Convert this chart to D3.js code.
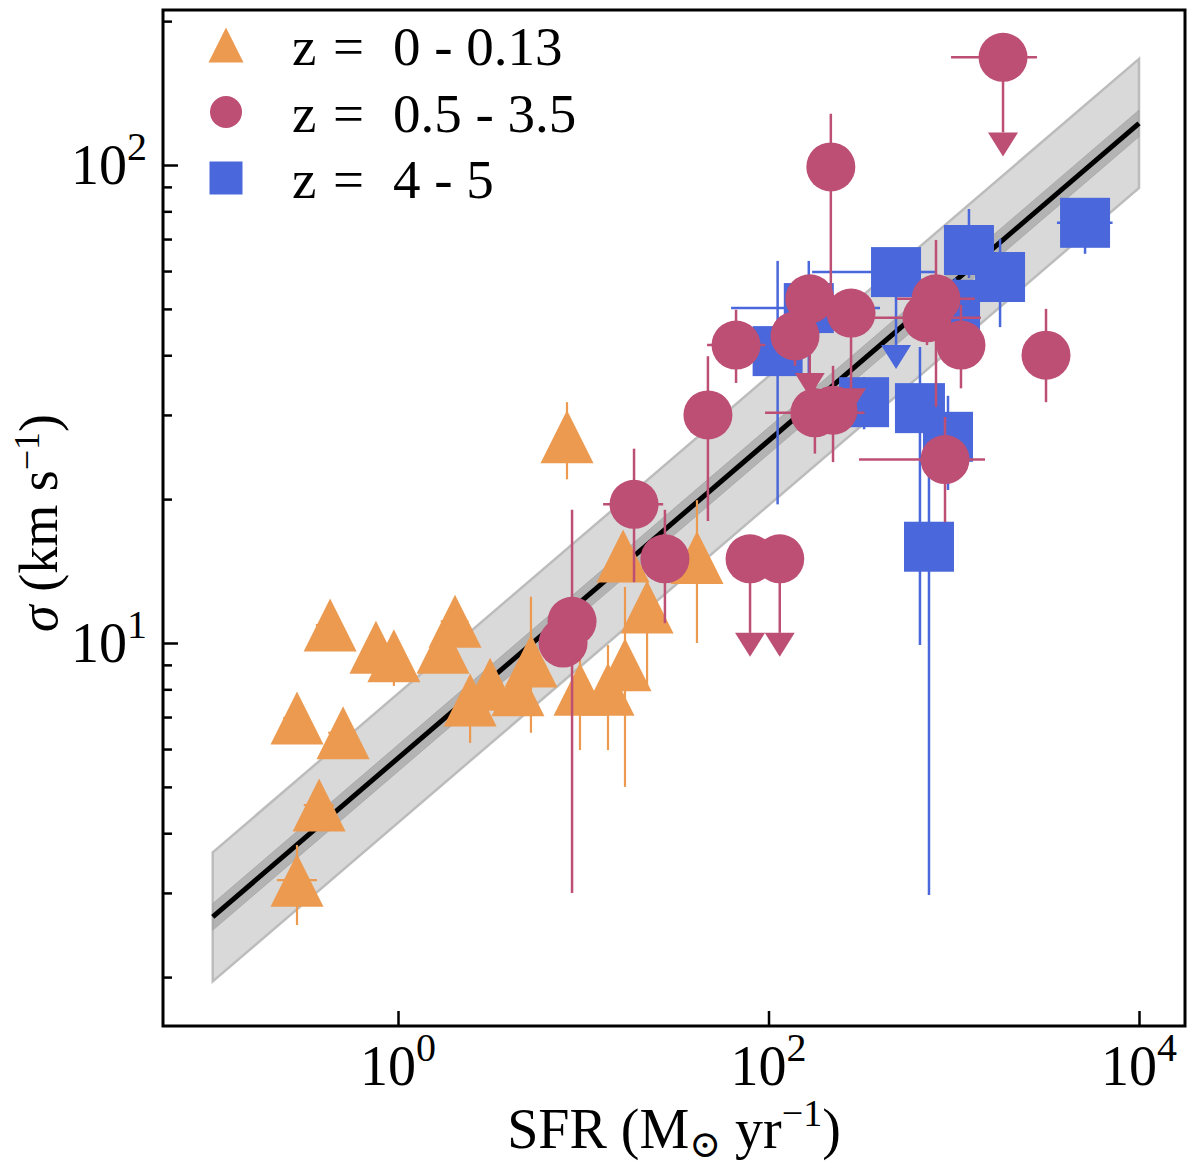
<!DOCTYPE html>
<html><head><meta charset="utf-8">
<script src="https://cdn.jsdelivr.net/npm/d3@7"></script>
<style>
body{margin:0;background:#fff}
svg{display:block}
text{font-family:"Liberation Serif","DejaVu Serif",serif;fill:#000}
</style>
</head><body>
<svg id="c" width="1200" height="1171"></svg>
<script>
// ---------------- DATA ----------------
// z = 0 - 0.13 : [SFR, sigma, sigmaLo, sigmaHi, sfrLo, sfrHi]
const lowZ = [
  [0.285, 3.19, 2.57, 3.78, 0.222, 0.365],
  [0.375, 4.58, 4.3, 4.9, 0.31, 0.45],
  [0.285, 6.97, 6.6, 7.3, 0.24, 0.33],
  [0.505, 6.49, 6.1, 6.9, 0.42, 0.58],
  [0.43, 10.9, 10.3, 11.5, 0.36, 0.5],
  [0.76, 9.8, 9.2, 10.4, 0.65, 0.88],
  [0.95, 9.4, 8.13, 10.0, null, null],
  [2.03, 11.1, 10.4, 11.8, 1.7, 2.4],
  [1.75, 9.8, 9.2, 10.4, 1.5, 2.0],
  [2.45, 7.6, 6.18, 8.3, 2.1, 2.8],
  [3.14, 8.2, 7.6, 8.8, null, null],
  [4.44, 7.98, 7.4, 8.6, null, null],
  [5.22, 9.17, 6.49, 12.5, null, null],
  [9.6, 8.0, 5.97, 9.9, null, null],
  [13.6, 8.0, 5.97, 9.9, null, null],
  [16.8, 9.0, 5.0, 13.1, null, null],
  [22.1, 11.9, 7.98, 13.5, null, null],
  [16.4, 15.2, 14.0, 16.5, null, null],
  [41.1, 15.1, 10.0, 19.9, null, null],
  [8.17, 27.0, 22.0, 31.9, null, null]
];
// z = 0.5 - 3.5 : [SFR, sigma, sigmaLo, sigmaHi, sfrLo, sfrHi, upperLimit]
const midZ = [
  [1845, 168, 117, null, 967, 2813, 1],
  [217, 99.1, 52, 128, null, null, 0],
  [66.8, 42.0, 35.0, 49.8, 46.6, 96, 0],
  [139, 43.9, 38, 50, null, null, 0],
  [167, 52.5, 36.7, null, null, null, 1],
  [279, 49.0, 34.1, null, null, null, 1],
  [717, 47.9, 42, 54, 366, 1400, 0],
  [802, 52.5, 31.2, 69.7, 494, 1300, 0],
  [1094, 42.0, 34.1, 51, null, null, 0],
  [3148, 40.0, 31.9, 50.0, null, null, 0],
  [178, 30.3, 24.9, 36, 95.8, 330, 0],
  [223, 30.7, 23.9, 38, null, null, 0],
  [47.1, 30.0, 18.0, 39.8, null, null, 0],
  [897, 24.2, 17.9, 29.7, 308, 1475, 0],
  [18.8, 19.5, 13.4, 25.5, 12.8, 27, 0],
  [27.6, 15.0, 11.0, 19.0, null, null, 0],
  [79.5, 15.0, 10.5, null, null, null, 1],
  [115, 15.0, 10.5, null, null, null, 1],
  [8.7, 11.1, 3.0, 19.0, null, null, 0],
  [7.78, 10.0, 9.0, 11.0, null, null, 0]
];
// z = 4 - 5 : [SFR, sigma, sigmaLo, sigmaHi, sfrLo, sfrHi, upperLimit]
const highZ = [
  [5114, 75.7, 65.2, 84, 3606, 7200, 0],
  [1208, 66.4, 58, 80.9, 1000, 1450, 0],
  [1778, 58.3, 45.8, 70.0, null, null, 0],
  [1016, 51.0, 45, 58, null, null, 0],
  [488, 59.7, 42.0, null, 172, 792, 1],
  [165, 50.2, 36.7, 63.0, 62.8, 400, 0],
  [112, 40.8, 19.5, 63.0, null, null, 0],
  [328, 31.9, 28, 36, null, null, 0],
  [657, 31.0, 9.9, 41.6, null, null, 0],
  [931, 27.0, 20.9, 32.9, null, null, 0],
  [735, 15.9, 2.97, 27.0, null, null, 0]
];
// best-fit relation log(sigma) = fitA + fitB * log(SFR), shaded scatter
const fitA = 0.759, fitB = 0.332, fitScatter = 0.135, fitErr = 0.028;
const fitRange = [0.1, 1e4];
const legendLabels = ["0 - 0.13", "0.5 - 3.5", "4 - 5"];
const xTicks = [1, 100, 10000], xTickExp = ["0", "2", "4"];
const yTicks = [10, 100], yTickExp = ["1", "2"];
const yMinor = [2,3,4,5,6,7,8,9,20,30,40,50,60,70,80,90,200];

// ---------------- CHART ----------------
const colors = {low:"#EB9A50", mid:"#BC4F73", high:"#4A68DB"};
const L=163, R=1185, T=10, B=1026;
const x = d3.scaleLog().domain([Math.pow(10,-1.2686), Math.pow(10,4.2483)]).range([L,R]);
const y = d3.scaleLog().domain([Math.pow(10,0.1987), Math.pow(10,2.3243)]).range([B,T]);
const svg = d3.select("#c");
svg.append("clipPath").attr("id","clip").append("rect")
  .attr("x",L).attr("y",T).attr("width",R-L).attr("height",B-T);
const g = svg.append("g").attr("clip-path","url(#clip)");

const fit = s => Math.pow(10, fitA + fitB*Math.log10(s));
const bandPts = [fitRange[0], fitRange[1]];
const band = (d) => d3.area().x(v=>x(v)).y0(v=>y(fit(v)*Math.pow(10,-d))).y1(v=>y(fit(v)*Math.pow(10,d)))(bandPts);
g.append("path").attr("d", band(fitScatter)+"Z").attr("fill","#d9d9d9").attr("stroke","#bcbcbc").attr("stroke-width",2.5);
g.append("path").attr("d", band(fitErr)+"Z").attr("fill","#a6a6a6").attr("fill-opacity",0.75).attr("stroke","#999").attr("stroke-opacity",0.5).attr("stroke-width",1);
g.append("path").attr("d", d3.line().x(v=>x(v)).y(v=>y(fit(v)))(bandPts))
  .attr("stroke","#000").attr("stroke-width",5).attr("fill","none");

function errbars(data, col, w){
  const eg = g.append("g").attr("stroke", col).attr("stroke-width", w).attr("fill","none");
  data.forEach(d=>{
    const [s, sg, lo, hi, xl, xh, ul] = d;
    if (ul) {
      eg.append("line").attr("x1",x(s)).attr("x2",x(s)).attr("y1",y(sg)).attr("y2",y(lo));
      const cx=x(s), cy=y(lo);
      g.append("path").attr("d",`M${cx-15},${cy}L${cx+15},${cy}L${cx},${cy+24}Z`).attr("fill",col);
    } else {
      if (lo!=null || hi!=null)
        eg.append("line").attr("x1",x(s)).attr("x2",x(s)).attr("y1",y(lo!=null?lo:sg)).attr("y2",y(hi!=null?hi:sg));
    }
    if (xl!=null || xh!=null)
      eg.append("line").attr("y1",y(sg)).attr("y2",y(sg)).attr("x1",x(xl!=null?xl:s)).attr("x2",x(xh!=null?xh:s));
  });
}
function tri(cx, cy, s){ return `M${cx},${cy-s/2}L${cx+s/2},${cy+s/2}L${cx-s/2},${cy+s/2}Z`; }

// low z
errbars(lowZ, colors.low, 2.2);
g.append("g").selectAll("path").data(lowZ).join("path")
  .attr("d", d=>tri(x(d[0]), y(d[1]), 53)).attr("fill", colors.low);
// high z
errbars(highZ, colors.high, 2.5);
g.append("g").selectAll("rect").data(highZ).join("rect")
  .attr("x", d=>x(d[0])-25).attr("y", d=>y(d[1])-25).attr("width",50).attr("height",50)
  .attr("fill", colors.high);
// mid z
errbars(midZ, colors.mid, 2.5);
g.append("g").selectAll("circle").data(midZ).join("circle")
  .attr("cx", d=>x(d[0])).attr("cy", d=>y(d[1])).attr("r",24.5).attr("fill", colors.mid);

// axes ticks
const xAx = svg.append("g").attr("transform",`translate(0,${B})`)
  .call(d3.axisBottom(x).tickValues(xTicks).tickSize(-15).tickFormat(""));
const yAx = svg.append("g").attr("transform",`translate(${L},0)`)
  .call(d3.axisLeft(y).tickValues(yTicks).tickSize(-15).tickFormat(""));
const yAxm = svg.append("g").attr("transform",`translate(${L},0)`)
  .call(d3.axisLeft(y).tickValues(yMinor).tickSize(-9).tickFormat(""));
[xAx,yAx,yAxm].forEach(a=>{ a.select(".domain").remove(); a.selectAll("line").attr("stroke","#000").attr("stroke-width",2.5); });
svg.append("rect").attr("x",L).attr("y",T).attr("width",R-L).attr("height",B-T)
  .attr("fill","none").attr("stroke","#000").attr("stroke-width",3);

// tick labels
xTicks.forEach((v,i)=>{
  const t = svg.append("text").attr("x",x(v)).attr("y",1085).attr("text-anchor","middle").attr("font-size",56);
  t.append("tspan").text("10");
  t.append("tspan").attr("dy",-24).attr("font-size",40).text(xTickExp[i]);
});
yTicks.forEach((v,i)=>{
  const t = svg.append("text").attr("x",147).attr("y",y(v)+19).attr("text-anchor","end").attr("font-size",56);
  t.append("tspan").text("10");
  t.append("tspan").attr("dy",-24).attr("font-size",40).text(yTickExp[i]);
});

// axis labels
const xl = svg.append("text").attr("x",(L+R)/2).attr("y",1148).attr("text-anchor","middle").attr("font-size",56);
xl.append("tspan").text("SFR (M");
xl.append("tspan").attr("dy",9).attr("font-size",38).text("⊙");
xl.append("tspan").attr("dy",-9).text(" yr");
xl.append("tspan").attr("dy",-22).attr("font-size",38).text("−1");
xl.append("tspan").attr("dy",22).text(")");

const yl = svg.append("text").attr("transform",`translate(57,523) rotate(-90)`).attr("text-anchor","middle").attr("font-size",54);
yl.append("tspan").attr("font-style","italic").text("σ");
yl.append("tspan").text(" (km s");
yl.append("tspan").attr("dy",-18).attr("font-size",36).text("−1");
yl.append("tspan").attr("dy",18).text(")");

// legend
const lgY = [45, 112, 178];
const lg = svg.append("g");
lg.append("path").attr("d", tri(226, lgY[0], 35)).attr("fill", colors.low);
lg.append("circle").attr("cx",226).attr("cy",lgY[1]).attr("r",16).attr("fill", colors.mid);
lg.append("rect").attr("x",226-16.5).attr("y",lgY[2]-16.5).attr("width",33).attr("height",33).attr("fill", colors.high);
legendLabels.forEach((lab,i)=>{
  const by = lgY[i]+20;
  lg.append("text").attr("x",292).attr("y",by).attr("font-size",55).text("z");
  lg.append("text").attr("x",333).attr("y",by).attr("font-size",55).attr("textLength",38).text("=");
  lg.append("text").attr("x",393).attr("y",by).attr("font-size",55).attr("xml:space","preserve").text(lab);
});
</script>
</body></html>
